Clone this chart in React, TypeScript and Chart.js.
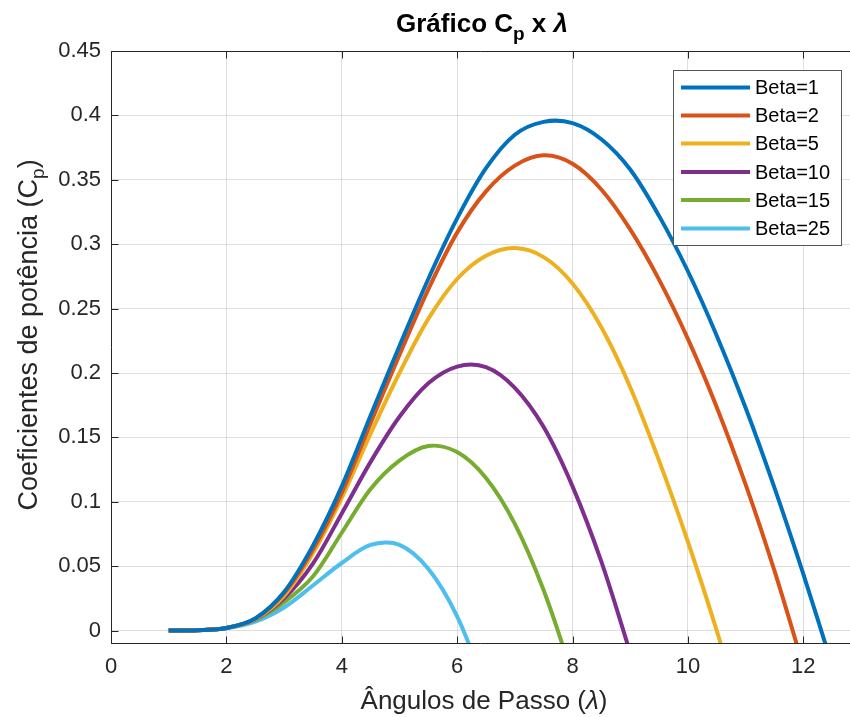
import React, { useEffect, useRef } from 'react';
import { Chart, registerables } from 'chart.js';

Chart.register(...registerables);

const FONT = '"Liberation Sans", Arial, Helvetica, sans-serif';

const X_TICKS = [0, 2, 4, 6, 8, 10, 12];
const Y_TICKS = [0, 0.05, 0.1, 0.15, 0.2, 0.25, 0.3, 0.35, 0.4, 0.45];

const SERIES_LABELS = ['Beta=1', 'Beta=2', 'Beta=5', 'Beta=10', 'Beta=15', 'Beta=25'];
const SERIES_COLORS = ['#0072BD', '#D95319', '#EDB120', '#7E2F8E', '#77AC30', '#4DBEEE'];

const beta1Lambda = [1, 1.5, 2, 2.5, 3, 3.5, 4, 4.5, 5, 5.5, 6, 6.5, 7, 7.5, 8, 8.5, 9, 9.5, 10, 10.5, 11, 11.5, 12, 12.5];
const beta1Cp = [0, 0.0003, 0.002, 0.0095, 0.030, 0.066, 0.112, 0.167, 0.221, 0.273, 0.320, 0.359, 0.385, 0.395, 0.394, 0.3815, 0.358, 0.322, 0.279, 0.229, 0.173, 0.111, 0.044, -0.027];

const beta2Lambda = [1, 1.5, 2, 2.5, 3, 3.5, 4, 4.5, 5, 5.5, 6, 6.5, 7, 7.5, 8, 8.5, 9, 9.5, 10, 10.5, 11, 11.5, 12];
const beta2Cp = [0, 0.0003, 0.002, 0.0093, 0.029, 0.063, 0.107, 0.161, 0.214, 0.265, 0.309, 0.341, 0.361, 0.369, 0.3625, 0.3425, 0.3115, 0.2725, 0.2265, 0.1735, 0.1135, 0.0465, -0.0275];

const beta5Lambda = [1, 1.5, 2, 2.5, 3, 3.5, 4, 4.5, 5, 5.5, 6, 6.5, 7, 7.5, 8, 8.5, 9, 9.5, 10, 10.5, 11];
const beta5Cp = [0, 0.0003, 0.002, 0.009, 0.027, 0.060, 0.103, 0.153, 0.200, 0.242, 0.273, 0.291, 0.297, 0.290, 0.2695, 0.2355, 0.189, 0.132, 0.069, 0, -0.075];

const beta10Lambda = [1, 1.5, 2, 2.5, 3, 3.5, 4, 4.5, 5, 5.5, 6, 6.5, 7, 7.5, 8, 8.5, 9];
const beta10Cp = [0, 0.0003, 0.002, 0.0088, 0.025, 0.052, 0.091, 0.131, 0.166, 0.192, 0.205, 0.2045, 0.1885, 0.158, 0.112, 0.0535, -0.017];

const beta15Lambda = [1, 1.5, 2, 2.5, 3, 3.5, 4, 4.5, 5, 5.5, 6, 6.5, 7, 7.5, 8];
const beta15Cp = [0, 0.0003, 0.002, 0.0085, 0.022, 0.042, 0.076, 0.110, 0.132, 0.1433, 0.1386, 0.1185, 0.0829, 0.0313, -0.0344];

const beta25Lambda = [1, 1.5, 2, 2.5, 3, 3.5, 4, 4.5, 5, 5.5, 6, 6.5];
const beta25Cp = [0, 0.0003, 0.0018, 0.007, 0.018, 0.035, 0.0525, 0.0665, 0.0666, 0.048, 0.011, -0.045];

const SERIES_LAMBDA = [beta1Lambda, beta2Lambda, beta5Lambda, beta10Lambda, beta15Lambda, beta25Lambda];
const SERIES_CP = [beta1Cp, beta2Cp, beta5Cp, beta10Cp, beta15Cp, beta25Cp];

const AXIS_COLOR = '#262626';

type Seg = { text: string; font: string; dy?: number };

function drawSegs(ctx: CanvasRenderingContext2D, segs: Seg[], x: number, y: number) {
  const widths = segs.map((s) => {
    ctx.font = s.font;
    return ctx.measureText(s.text).width;
  });
  const total = widths.reduce((a, b) => a + b, 0);
  let cx = x - total / 2;
  segs.forEach((s, i) => {
    ctx.font = s.font;
    ctx.fillText(s.text, cx, y + (s.dy || 0));
    cx += widths[i];
  });
}

const decorPlugin = {
  id: 'decor',
  afterDraw(chart: any) {
    const ctx: CanvasRenderingContext2D = chart.ctx;
    const a = chart.chartArea;
    const xs = chart.scales.x;
    const ys = chart.scales.y;
    ctx.save();

    // axes box lines
    ctx.strokeStyle = AXIS_COLOR;
    ctx.lineWidth = 1;
    const L = Math.round(a.left) + 0.5;
    const B = Math.round(a.bottom) - 0.5;
    const T = Math.round(a.top) + 0.5;
    ctx.beginPath();
    ctx.moveTo(L, T);
    ctx.lineTo(L, B);
    ctx.lineTo(a.right, B);
    ctx.moveTo(L, T);
    ctx.lineTo(a.right, T);
    const tl = 7;
    X_TICKS.forEach((v) => {
      const px = Math.round(xs.getPixelForValue(v)) + 0.5;
      ctx.moveTo(px, B);
      ctx.lineTo(px, B - tl);
      ctx.moveTo(px, T);
      ctx.lineTo(px, T + tl);
    });
    Y_TICKS.forEach((v) => {
      const py = Math.round(ys.getPixelForValue(v)) + 0.5;
      ctx.moveTo(L, py);
      ctx.lineTo(L + tl, py);
    });
    ctx.stroke();

    // legend
    const lx = 673.5, ly = 70.5, lw = 168, lh = 175;
    ctx.fillStyle = '#ffffff';
    ctx.fillRect(lx, ly, lw, lh);
    ctx.strokeStyle = '#555555';
    ctx.lineWidth = 1;
    ctx.strokeRect(lx, ly, lw, lh);
    const rowY = [87.5, 115.5, 143.5, 172, 200, 228.5];
    ctx.textBaseline = 'middle';
    ctx.textAlign = 'left';
    ctx.font = `20px ${FONT}`;
    SERIES_LABELS.forEach((lab, i) => {
      ctx.strokeStyle = SERIES_COLORS[i];
      ctx.lineWidth = 4;
      ctx.beginPath();
      ctx.moveTo(681, rowY[i]);
      ctx.lineTo(750, rowY[i]);
      ctx.stroke();
      ctx.fillStyle = '#000000';
      ctx.fillText(lab, 755, rowY[i] + 1);
    });

    // title
    ctx.fillStyle = '#000000';
    ctx.textBaseline = 'alphabetic';
    ctx.textAlign = 'left';
    drawSegs(ctx, [
      { text: 'Gráfico C', font: `bold 26px ${FONT}` },
      { text: 'p', font: `bold 19px ${FONT}`, dy: 8 },
      { text: ' x ', font: `bold 26px ${FONT}` },
      { text: 'λ', font: `italic bold 26px ${FONT}` },
    ], 482, 32);

    // x label
    ctx.fillStyle = '#262626';
    drawSegs(ctx, [
      { text: 'Ângulos de Passo (', font: `26px ${FONT}` },
      { text: 'λ', font: `italic 26px ${FONT}` },
      { text: ')', font: `26px ${FONT}` },
    ], 484, 709);

    // y label
    ctx.save();
    ctx.translate(37, 335);
    ctx.rotate(-Math.PI / 2);
    drawSegs(ctx, [
      { text: 'Coeficientes de potência (C', font: `27px ${FONT}` },
      { text: 'p', font: `19px ${FONT}`, dy: 7 },
      { text: ')', font: `27px ${FONT}` },
    ], 0, 0);
    ctx.restore();

    ctx.restore();
  },
};

export default function App() {
  const ref = useRef<HTMLCanvasElement | null>(null);

  useEffect(() => {
    document.body.style.margin = '0';
    const canvas = ref.current;
    if (!canvas) return;
    const datasets = SERIES_LABELS.map((lab, i) => ({
      label: lab,
      data: SERIES_LAMBDA[i].map((x, j) => ({ x, y: SERIES_CP[i][j] })),
      borderColor: SERIES_COLORS[i],
      backgroundColor: SERIES_COLORS[i],
      borderWidth: 4,
      pointRadius: 0,
      fill: false,
      tension: 0.33,
      clip: 0,
    }));

    const chart = new Chart(canvas, {
      type: 'line',
      data: { datasets },
      options: {
        responsive: false,
        devicePixelRatio: 1,
        animation: false,
        layout: { padding: { top: 51, right: 0, left: 0, bottom: 0 } },
        plugins: {
          legend: { display: false },
          title: { display: false },
          tooltip: { enabled: false },
        },
        scales: {
          x: {
            type: 'linear',
            min: 0,
            max: 12.81,
            afterBuildTicks: (s: any) => {
              s.ticks = X_TICKS.map((v) => ({ value: v }));
            },
            afterFit: (s: any) => {
              s.height = 73.5;
            },
            grid: { color: 'rgba(38,38,38,0.15)', lineWidth: 1, drawTicks: false },
            border: { display: false },
            ticks: {
              color: AXIS_COLOR,
              font: { family: FONT, size: 22 },
              padding: 10,
              maxRotation: 0,
              callback: (v: any) => String(v),
            },
          },
          y: {
            type: 'linear',
            min: -0.01,
            max: 0.45,
            afterBuildTicks: (s: any) => {
              s.ticks = Y_TICKS.map((v) => ({ value: v }));
            },
            afterFit: (s: any) => {
              s.width = 111;
            },
            grid: { color: 'rgba(38,38,38,0.15)', lineWidth: 1, drawTicks: false },
            border: { display: false },
            ticks: {
              color: AXIS_COLOR,
              font: { family: FONT, size: 22 },
              padding: 10,
              callback: (v: any) => String(Number(Number(v).toFixed(2))),
            },
          },
        },
      },
      plugins: [decorPlugin],
    });
    return () => chart.destroy();
  }, []);

  return <canvas ref={ref} width={850} height={717} style={{ display: 'block' }} />;
}
